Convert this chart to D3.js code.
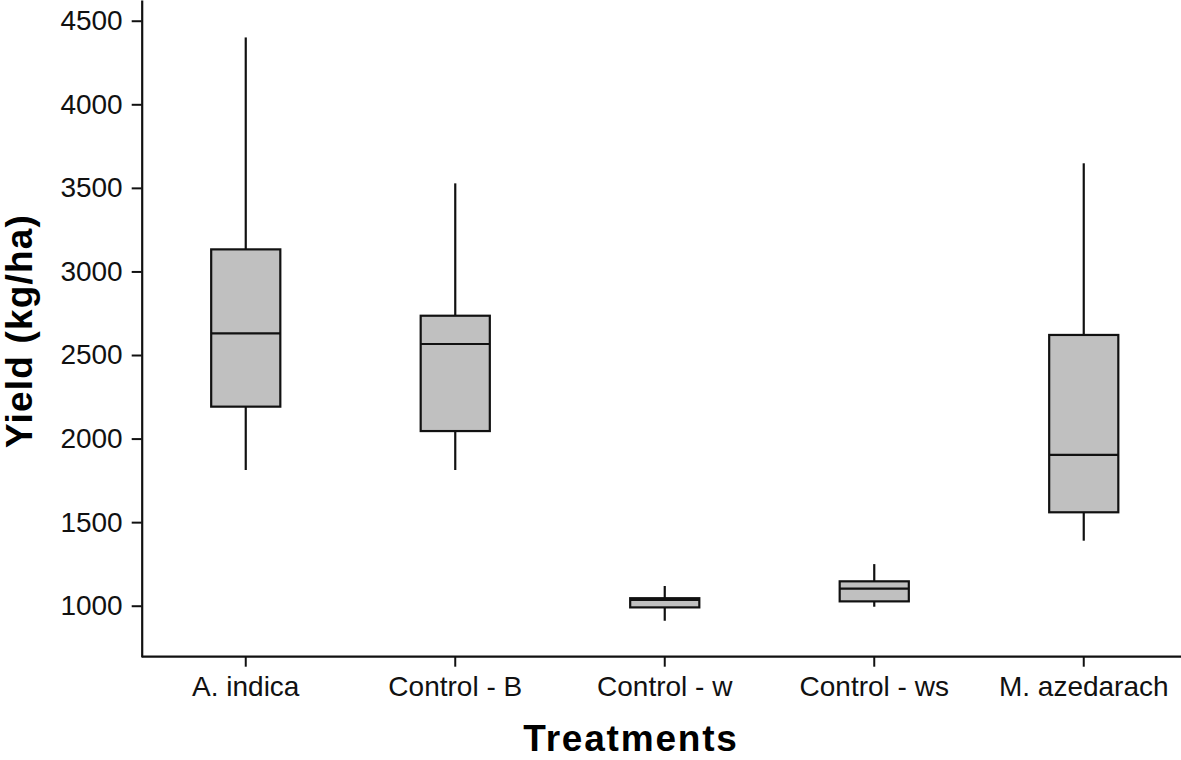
<!DOCTYPE html>
<html>
<head>
<meta charset="utf-8">
<script src="https://cdn.jsdelivr.net/npm/d3@7"></script>
<style>
  html, body { margin: 0; padding: 0; background: #fff; }
  svg { display: block; }
</style>
</head>
<body>
<svg id="chart" width="1181" height="760"></svg>
<script>
const categories = ["A. indica", "Control - B", "Control - w", "Control - ws", "M. azedarach"];
const whiskerLow  = [1812, 1812, 910, 994, 1389];
const q1Values    = [2191, 2045, 990, 1026, 1559];
const medians     = [2630, 2566, 1035, 1102, 1902];
const q3Values    = [3132, 2735, 1045, 1146, 2620];
const whiskerHigh = [4400, 3527, 1118, 1249, 3647];
const yTicks = [1000, 1500, 2000, 2500, 3000, 3500, 4000, 4500];
const xTitle = "Treatments";
const yTitle = "Yield (kg/ha)";

const svg = d3.select("#chart");
const axisX0 = 141.7, axisY0 = 656.7;

const x = d3.scaleBand().domain(categories).range([141, 1188.5]).padding(0);
const y = d3.scaleLinear().domain([695, 4624]).range([axisY0, 0]);

const data = categories.map((c, i) => ({
  cat: c, lo: whiskerLow[i], q1: q1Values[i], med: medians[i], q3: q3Values[i], hi: whiskerHigh[i]
}));

const boxW = x.bandwidth() * 0.33;
const g = svg.append("g");

const items = g.selectAll("g.box").data(data).join("g").attr("class", "box");
const cx = d => x(d.cat) + x.bandwidth() / 2;

items.append("line")
  .attr("x1", cx).attr("x2", cx)
  .attr("y1", d => y(d.hi)).attr("y2", d => y(d.q3))
  .attr("stroke", "#111").attr("stroke-width", 2.2);
items.append("line")
  .attr("x1", cx).attr("x2", cx)
  .attr("y1", d => y(d.q1)).attr("y2", d => y(d.lo))
  .attr("stroke", "#111").attr("stroke-width", 2.2);
items.append("rect")
  .attr("x", d => cx(d) - boxW / 2).attr("width", boxW)
  .attr("y", d => y(d.q3)).attr("height", d => y(d.q1) - y(d.q3))
  .attr("fill", "#c0c0c0").attr("stroke", "#111").attr("stroke-width", 2.2);
items.append("line")
  .attr("x1", d => cx(d) - boxW / 2).attr("x2", d => cx(d) + boxW / 2)
  .attr("y1", d => y(d.med)).attr("y2", d => y(d.med))
  .attr("stroke", "#111").attr("stroke-width", 2.2);

// Axes
const yAxis = d3.axisLeft(y).tickValues(yTicks).tickFormat(d3.format("d"))
  .tickSize(10).tickSizeOuter(0).tickPadding(9);
const yg = svg.append("g").attr("transform", `translate(${axisX0},0)`).call(yAxis);
const xAxis = d3.axisBottom(x).tickSize(10).tickSizeOuter(0).tickPadding(9);
const xg = svg.append("g").attr("transform", `translate(0,${axisY0})`).call(xAxis);

[yg, xg].forEach(a => {
  a.select(".domain").attr("stroke", "#111").attr("stroke-width", 2.2);
  a.selectAll(".tick line").attr("stroke", "#111").attr("stroke-width", 2);
  a.selectAll(".tick text")
    .attr("font-family", "'Liberation Sans', Arial, sans-serif")
    .attr("font-size", 28).attr("fill", "#111");
});
xg.select(".domain").attr("d", `M${axisX0},0H1181`);

svg.append("text")
  .attr("x", 631).attr("y", 751)
  .attr("text-anchor", "middle")
  .attr("font-family", "'Liberation Sans', Arial, sans-serif")
  .attr("font-weight", "bold").attr("font-size", 37)
  .attr("letter-spacing", 1.8)
  .attr("fill", "#000")
  .text(xTitle);

svg.append("text")
  .attr("transform", "translate(32,331) rotate(-90)")
  .attr("text-anchor", "middle")
  .attr("font-family", "'Liberation Sans', Arial, sans-serif")
  .attr("font-weight", "bold").attr("font-size", 37)
  .attr("letter-spacing", 1.2)
  .attr("fill", "#000")
  .text(yTitle);
</script>
</body>
</html>
